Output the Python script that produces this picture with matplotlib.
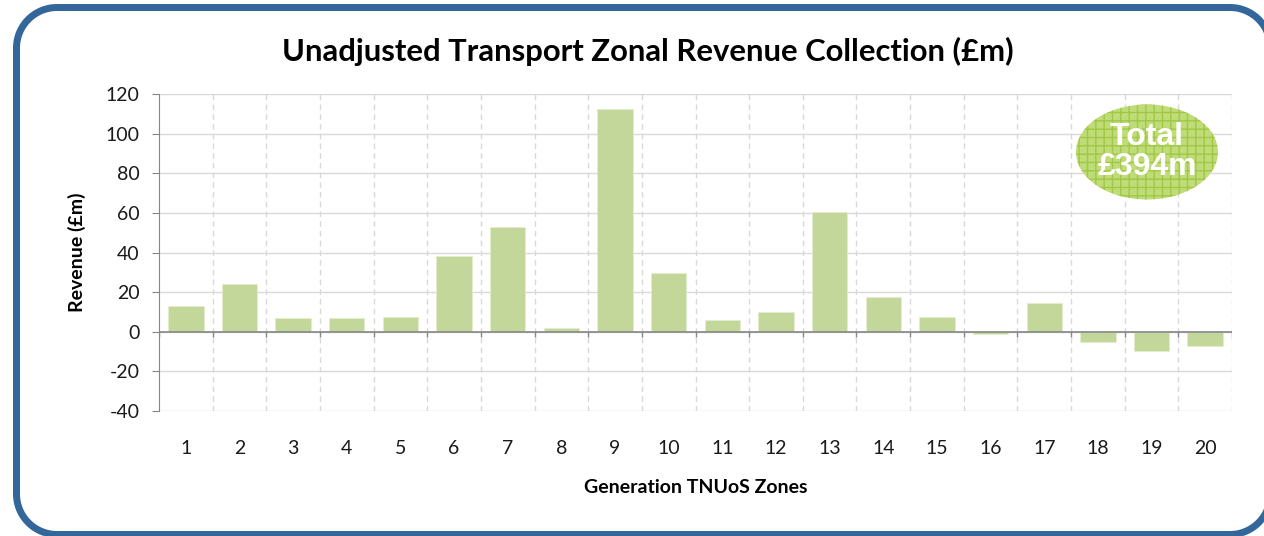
import matplotlib
matplotlib.use("Agg")
import numpy as np
import matplotlib.pyplot as plt
from matplotlib.patches import Ellipse, PathPatch
from matplotlib.path import Path

plt.rcParams['font.family'] = ['Lato', 'DejaVu Sans']

# Data
zones = list(range(1, 21))
revenue = [13.1, 24.2, 7.1, 7.1, 7.6, 38.4, 53.2, 2.0, 112.6, 29.8,
           6.1, 10.1, 60.4, 17.7, 7.6, -1.0, 14.6, -5.1, -9.6, -7.1]
y_ticks = [-40, -20, 0, 20, 40, 60, 80, 100, 120]
total_text = "Total\n£394m"

W, H = 1264, 536
fig = plt.figure(figsize=(W / 100, H / 100), dpi=100)
fig.patch.set_facecolor('white')


def rounded_outline(x0, y0, x1, y1, r, n=40):
    # rounded rectangle outline in pixel coords (y down), cut at the canvas edge
    t = np.linspace(0, np.pi / 2, n)
    parts = []
    for cx, cy, a0 in [(x1 - r, y0 + r, 1.5 * np.pi), (x1 - r, y1 - r, 0.0),
                       (x0 + r, y1 - r, 0.5 * np.pi), (x0 + r, y0 + r, np.pi)]:
        parts.append(np.column_stack([cx + r * np.cos(a0 + t), cy + r * np.sin(a0 + t)]))
    pts = np.vstack(parts)
    pts[:, 0] = np.clip(pts[:, 0], 0, W)
    pts[:, 1] = np.clip(pts[:, 1], 0, H)
    return np.vstack([pts, pts[:1]])


# full-figure pixel canvas for the blue rounded frame
bg = fig.add_axes([0, 0, 1, 1], zorder=-1)
bg.set_xlim(0, W)
bg.set_ylim(H, 0)
bg.axis('off')
outer = rounded_outline(13, 4, 1274, 538, 44)
inner = rounded_outline(20, 11, 1267, 531, 37)[::-1]
verts = np.vstack([outer, inner])
codes = ([Path.MOVETO] + [Path.LINETO] * (len(outer) - 2) + [Path.CLOSEPOLY] +
         [Path.MOVETO] + [Path.LINETO] * (len(inner) - 2) + [Path.CLOSEPOLY])
bg.add_patch(PathPatch(Path(verts, codes), facecolor='#336699', edgecolor='none'))

ax = fig.add_axes([159 / W, 1 - 411 / H, (1232 - 159) / W, (411 - 94.3) / H])

grid_col = '#d9d9d9'
axis_col = '#868686'

ax.bar(zones, revenue, width=0.66, color='#c4d79b', edgecolor='#e4eecb',
       linewidth=0.6, zorder=3)

ax.set_xlim(0.5, len(zones) + 0.5)
ax.set_ylim(y_ticks[0], y_ticks[-1])
ax.set_yticks(y_ticks)
ax.set_yticklabels([str(v) for v in y_ticks])
ax.set_xticks(zones)
ax.set_xticklabels([str(z) for z in zones])

# horizontal gridlines
for v in y_ticks:
    ax.axhline(v, color=grid_col, lw=1, zorder=1)
# dashed vertical gridlines at category boundaries
bounds = [z + 0.5 for z in zones]
ax.vlines(bounds, y_ticks[0], y_ticks[-1], colors=grid_col, linestyles=(0, (4, 3)),
          lw=1, zorder=1)
# category axis at zero, with tick marks below it
ax.axhline(0, color=axis_col, lw=1.2, zorder=4)
ax.vlines([0.5] + bounds, -2.6, 0, colors=axis_col, lw=1, zorder=4)

for s in ['top', 'right', 'bottom']:
    ax.spines[s].set_visible(False)
ax.spines['left'].set_color(axis_col)
ax.spines['left'].set_zorder(4)

ax.tick_params(axis='y', length=5, color=axis_col, labelsize=14, pad=9,
               labelcolor='#1a1a1a')
ax.tick_params(axis='x', length=0, labelsize=14, pad=21, labelcolor='#1a1a1a')

ax.set_ylabel('Revenue (£m)', fontsize=14, fontweight='bold', labelpad=14)
ax.set_xlabel('Generation TNUoS Zones', fontsize=14, fontweight='bold', labelpad=16)

fig.text(647.5 / W, 1 - 61 / H, 'Unadjusted Transport Zonal Revenue Collection (£m)',
         ha='center', va='baseline', fontsize=22.3, fontweight='bold', color='black')

# total bubble
cx, cy = 1147 / W, 1 - 152 / H
fig.add_artist(Ellipse((cx, cy), 142 / W, 95 / H, transform=fig.transFigure,
                       facecolor='#c0dc78', edgecolor='none'))
plt.rcParams['hatch.linewidth'] = 1.0
fig.add_artist(Ellipse((cx, cy), 142 / W, 95 / H, transform=fig.transFigure,
                       facecolor='none', edgecolor='#a0c845', hatch='++', linewidth=0))
fig.text(cx, cy, total_text, ha='center', va='center', color='white',
         fontsize=23, fontweight='bold', family='Liberation Sans', linespacing=1.0)

fig.savefig('out.png', dpi=100)
